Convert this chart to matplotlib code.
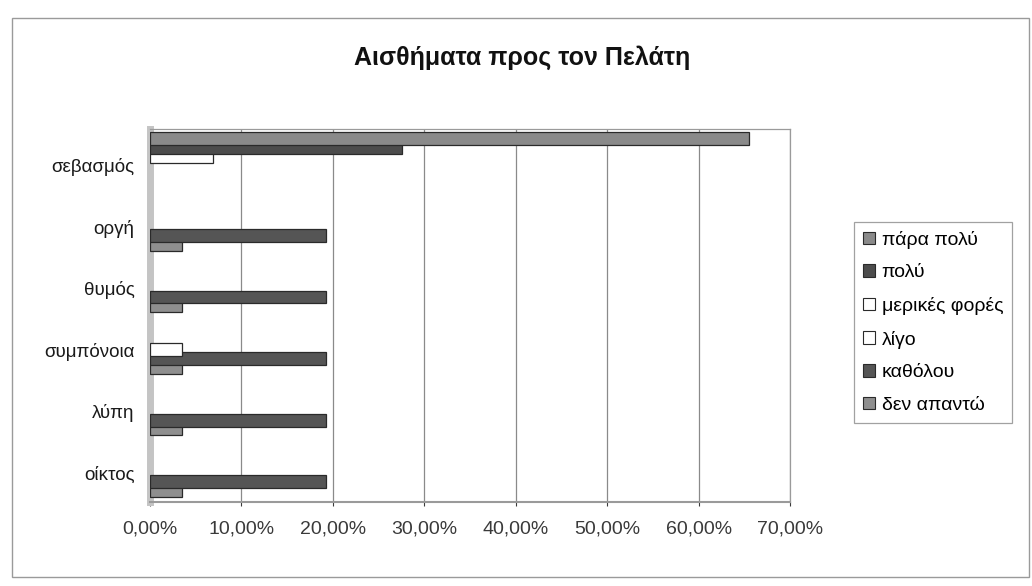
import numpy as np
import matplotlib.pyplot as plt
from matplotlib.ticker import FuncFormatter, MultipleLocator
from matplotlib.patches import Patch, Rectangle

plt.rcParams['font.family'] = ['Liberation Sans', 'DejaVu Sans']

# categories top to bottom
categories = ['σεβασμός', 'οργή', 'θυμός', 'συμπόνοια', 'λύπη', 'οίκτος']
series_names = ['πάρα πολύ', 'πολύ', 'μερικές φορές', 'λίγο', 'καθόλου', 'δεν απαντώ']

# values in percent
para_poly = [65.5, 0, 0, 0, 0, 0]
poly = [27.6, 0, 0, 0, 0, 0]
merikes_fores = [6.9, 0, 0, 0, 0, 0]
ligo = [0, 0, 0, 3.5, 0, 0]
katholou = [0, 19.2, 19.2, 19.2, 19.2, 19.2]
den_apanto = [0, 3.5, 3.5, 3.5, 3.5, 3.5]

series_values = [para_poly, poly, merikes_fores, ligo, katholou, den_apanto]
colors = ['#8a8a8a', '#4c4c4c', '#ffffff', '#ffffff', '#555555', '#8f8f8f']

fig = plt.figure(figsize=(10.32, 5.86), dpi=100)
fig.patch.set_facecolor('white')
ax = fig.add_axes([150 / 1032, 1 - 502 / 586, 640 / 1032, 373 / 586])

y = np.arange(len(categories))
step = 8.8 / 61.6
shift = -2.3 / 61.6
h = step
depth = 4 / 61.6      # 3d-ish thickness, upper part hidden by the bar above
for k in range(len(series_names)):
    vals = np.array(series_values[k])
    pos = y + (k - 2.5) * step + shift
    bars = ax.barh(pos - depth / 2, vals, height=h + depth, color=colors[k],
                   edgecolor='#2a2a2a', linewidth=0.9, zorder=10 - k)
    for b, v in zip(bars, vals):
        if v == 0:
            b.set_visible(False)

ax.set_xlim(0, 70)
ax.set_ylim(5.471, -0.584)
ax.xaxis.set_major_locator(MultipleLocator(10))
ax.xaxis.set_major_formatter(FuncFormatter(lambda v, p: f"{v:.2f}".replace('.', ',') + '%'))
ax.set_yticks(y)
ax.set_yticklabels(categories)
ax.tick_params(axis='y', length=0, pad=11, labelsize=13.5, colors='#1a1a1a')
ax.tick_params(axis='x', length=3, pad=10, labelsize=14, colors='#3a3a3a')
ax.xaxis.grid(True, color='#8a8a8a', linewidth=0.9, zorder=0)
ax.set_axisbelow(True)

for s in ['top', 'right']:
    ax.spines[s].set_color('#9a9a9a')
    ax.spines[s].set_linewidth(0.9)
ax.spines['left'].set_color('#c4c4c4')
ax.spines['left'].set_linewidth(5)
ax.spines['bottom'].set_color('#9a9a9a')
ax.spines['bottom'].set_linewidth(1.5)

fig.text(522 / 1032, 1 - 58 / 586, 'Αισθήματα προς τον Πελάτη', ha='center', va='center',
         fontsize=18, fontweight='bold', color='#111111')

handles = [Patch(facecolor=c, edgecolor='#2a2a2a', linewidth=0.8) for c in colors]
leg = fig.legend(handles, series_names, loc='upper left',
                 bbox_to_anchor=(854 / 1032, 1 - 222 / 586), frameon=True, fancybox=False,
                 edgecolor='#8a8a8a', fontsize=14, labelspacing=0.8, handlelength=0.62,
                 handleheight=0.62, handletextpad=0.35, borderpad=0.45, borderaxespad=0)
leg.get_frame().set_linewidth(0.9)

fig.patches.append(Rectangle((12 / 1032, 1 - 577 / 586), (1029 - 12) / 1032, (577 - 18) / 586,
                             transform=fig.transFigure, fill=False, edgecolor='#9a9a9a', lw=1))

fig.savefig('out.png', dpi=100)
